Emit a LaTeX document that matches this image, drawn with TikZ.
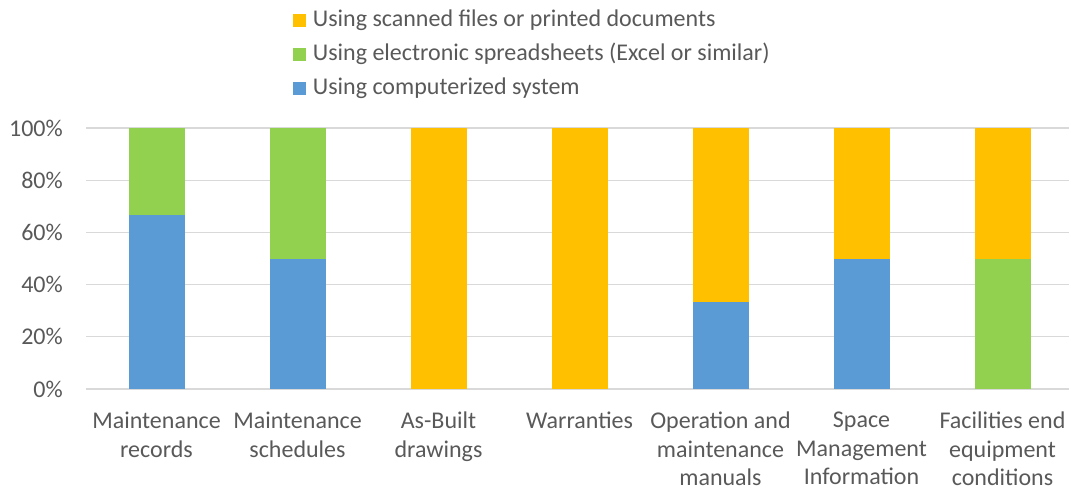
\documentclass[tikz,border=0pt]{standalone}
\usepackage{fontspec}
\setmainfont{Carlito}
\usetikzlibrary{positioning}
\definecolor{scanned}{HTML}{FFC000}
\definecolor{sheets}{HTML}{92D050}
\definecolor{system}{HTML}{5B9BD5}
\definecolor{gridgray}{HTML}{D9D9D9}
\definecolor{textgray}{HTML}{595959}
\tikzset{
  labeltext/.style={text=textgray, font=\fontsize{24}{28.5}\selectfont, inner sep=0pt},
  legendbox/.style={minimum width=13pt, minimum height=13pt, inner sep=0pt},
  catlabel/.style={labeltext, align=center, anchor=north}
}
% bar from value #3 to #4 (percent) at centre #2
\def\stackbar[#1](#2)(#3:#4){\fill[#1] ({#2-28}, {389-#3*2.61}) rectangle ({#2+28}, {389-#4*2.61});}

\begin{document}
\begin{tikzpicture}[x=1pt, y=-1pt]
			%%%%% START %%%%%
			\useasboundingbox (0,0) rectangle (1071,491);
			
			\foreach \v in {0,20,...,100}{
				\draw[gridgray, line width=1.3pt] (86, {389-\v*2.61}) -- (1069, {389-\v*2.61});
				\node[labeltext, anchor=east] (tick\v) at (63, {389-\v*2.61}) {\v\%};
			}
			
			\stackbar[system](156.5)(0:66.7)
			\stackbar[sheets](156.5)(66.7:100)
			
			\stackbar[system](297.5)(0:50)
			\stackbar[sheets](297.5)(50:100)
			
			\stackbar[scanned](438.5)(0:100)
			
			\stackbar[scanned](579.5)(0:100)
			
			\stackbar[system](720.5)(0:33.3)
			\stackbar[scanned](720.5)(33.3:100)
			
			\stackbar[system](861.5)(0:50)
			\stackbar[scanned](861.5)(50:100)
			
			\stackbar[sheets](1002.5)(0:50)
			\stackbar[scanned](1002.5)(50:100)
			
			\node[catlabel] (records) at (156.5, 412) {Maintenance\\records};
			\node[catlabel] (schedules) at (297.5, 412) {Maintenance\\schedules};
			\node[catlabel] (asbuilt) at (438.5, 412) {As-Built\\drawings};
			\node[catlabel] (warranties) at (579.5, 412) {Warranties};
			\node[catlabel] (manuals) at (720.5, 412) {Operation and\\maintenance\\manuals};
			\node[catlabel] (space) at (861.5, 412) {Space\\Management\\Information};
			\node[catlabel] (facilities) at (1002.5, 412) {Facilities end\\equipment\\conditions};
			
			\node[legendbox, fill=scanned] (keyscanned) at (299, 20) {};
			\node[labeltext, right=7pt of keyscanned] (txtscanned) {Using scanned files or printed documents};
			\node[legendbox, fill=sheets] (keysheets) at (299, 54) {};
			\node[labeltext, right=7pt of keysheets] (txtsheets) {Using electronic spreadsheets (Excel or similar)};
			\node[legendbox, fill=system] (keysystem) at (299, 88) {};
			\node[labeltext, right=7pt of keysystem] (txtsystem) {Using computerized system};
			
			%%%%% END %%%%%
\end{tikzpicture}
\end{document}
